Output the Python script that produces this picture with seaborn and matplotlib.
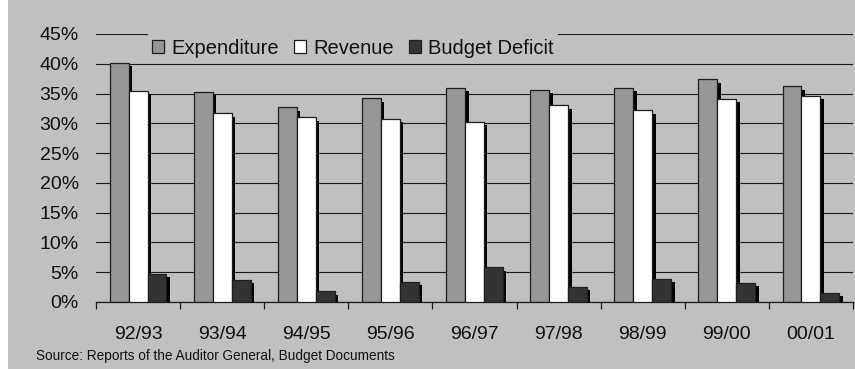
import matplotlib
matplotlib.use("Agg")
import matplotlib.pyplot as plt
from matplotlib.patches import Rectangle
from matplotlib.transforms import offset_copy
from matplotlib.ticker import FuncFormatter, FixedLocator
import seaborn as sns
import pandas as pd

# Fiscal years and shares of GDP (%)
years = ["92/93", "93/94", "94/95", "95/96", "96/97", "97/98", "98/99", "99/00", "00/01"]
expenditure = [40.2, 35.3, 32.7, 34.2, 36.0, 35.6, 36.0, 37.4, 36.2]
revenue = [35.5, 31.7, 31.0, 30.8, 30.3, 33.0, 32.2, 34.1, 34.6]
deficit = [4.7, 3.7, 1.8, 3.4, 5.8, 2.6, 3.9, 3.2, 1.5]
series_names = ["Expenditure", "Revenue", "Budget Deficit"]
series_colors = ["#969696", "#ffffff", "#333333"]
source_note = "Source: Reports of the Auditor General, Budget Documents"

BG = "#c0c0c0"

sns.set_theme(style="white")
plt.rcParams["font.family"] = ["Liberation Sans", "DejaVu Sans"]

df = pd.DataFrame({
    "year": years * 3,
    "value": expenditure + revenue + deficit,
    "series": [series_names[0]] * len(years) + [series_names[1]] * len(years)
              + [series_names[2]] * len(years),
})

W, H = 855, 369
fig = plt.figure(figsize=(W / 100, H / 100), dpi=100, facecolor=BG)
fig.patches.append(Rectangle((0, 0), 8 / W, 1, transform=fig.transFigure,
                             facecolor="white", edgecolor="none"))
ax = fig.add_axes([96 / W, 1 - 302 / H, (853 - 96) / W, (302 - 34) / H])
ax.set_facecolor(BG)

sns.barplot(data=df, x="year", y="value", hue="series", order=years,
            hue_order=series_names, palette=series_colors, saturation=1,
            width=0.675, edgecolor="#1e1e1e", linewidth=0.9, ax=ax)

# drop-shadow behind every bar, layered so each series sits above the previous shadow
shadow_tf = offset_copy(ax.transData, fig=fig, x=3.5, y=-3.3, units="dots")
for i, cont in enumerate(ax.containers):
    for bar in cont:
        bar.set_zorder(2 * i + 2)
        sh = Rectangle(bar.get_xy(), bar.get_width(), bar.get_height(),
                       transform=shadow_tf, facecolor="black", edgecolor="none",
                       zorder=2 * i + 1)
        ax.add_patch(sh)

ax.set_ylim(0, 45)
ax.set_xlim(-0.5, len(years) - 0.5)
ax.set_yticks(range(0, 46, 5))
ax.yaxis.set_major_formatter(FuncFormatter(lambda v, p: f"{int(v)}%"))
ax.grid(axis="y", color="#1a1a1a", linewidth=0.8)
ax.set_axisbelow(True)
ax.set_xlabel("")
ax.set_ylabel("")

for s in ["left", "right", "top"]:
    ax.spines[s].set_visible(False)
ax.spines["bottom"].set_color("#1a1a1a")
ax.spines["bottom"].set_linewidth(0.9)

ax.tick_params(axis="y", length=0, pad=12.5, labelsize=14, labelcolor="#111111")
ax.tick_params(axis="x", which="major", length=0, pad=17, labelsize=14,
               labelcolor="#111111")
ax.xaxis.set_minor_locator(FixedLocator([k - 0.5 for k in range(len(years) + 1)]))
ax.tick_params(axis="x", which="minor", length=5, width=0.9, color="#1a1a1a",
               direction="out")
ax.xaxis.set_ticks_position("bottom")

handles, labels = ax.get_legend_handles_labels()
if ax.get_legend() is not None:
    ax.get_legend().remove()
leg = ax.legend(handles, labels, ncol=3, loc="center",
                bbox_to_anchor=(353 / W, 1 - 48 / H), bbox_transform=fig.transFigure,
                frameon=True, facecolor=BG, edgecolor="none", framealpha=1,
                fancybox=False, fontsize=14.5, handlelength=0.6, handleheight=0.6,
                handletextpad=0.35, columnspacing=0.75, borderpad=0.22,
                borderaxespad=0)
for t in leg.get_texts():
    t.set_color("#111111")

fig.text(36 / W, 1 - 356 / H, source_note, fontsize=9.8, color="#111111",
         ha="left", va="center")

fig.savefig("out.png", dpi=100, facecolor=BG)
